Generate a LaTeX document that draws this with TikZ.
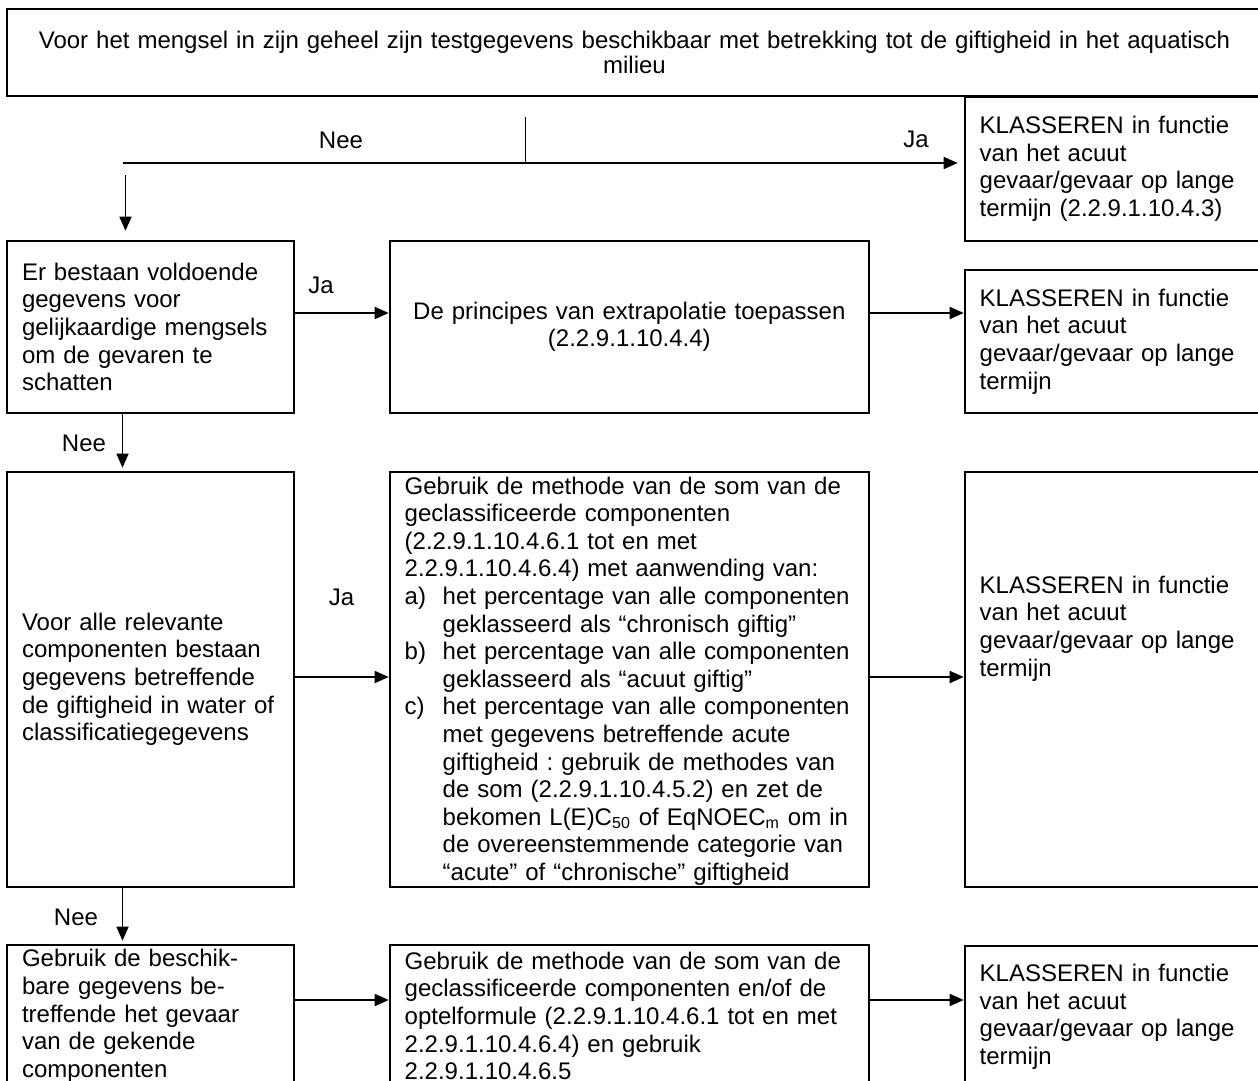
\documentclass[tikz,border=0pt]{standalone}
\usepackage{fontspec}
\setmainfont{Liberation Sans}
\usetikzlibrary{arrows.meta}
\frenchspacing
\tikzset{
  box/.style={draw, line width=1pt, rectangle, inner xsep=7.5pt, inner ysep=1pt, align=left,
    font=\fontsize{12}{13.8}\selectfont},
  lbl/.style={inner sep=0pt, font=\fontsize{12}{13.8}\selectfont},
  conn/.style={line width=0.8pt},
  arr/.style={line width=0.8pt, -{Triangle[length=7pt,width=6pt]}}
}
\begin{document}
\begin{tikzpicture}[x=0.5pt,y=-0.5pt]
\useasboundingbox (0,0) rectangle (1258,1081);
% top box
\node[box, align=center, minimum width=627.5pt, minimum height=43.5pt, text width=600pt,
  font=\fontsize{12}{12.5}\selectfont] (top) at (634.5,52.5)
  {Voor het mengsel in zijn geheel zijn testgegevens beschikbaar met betrekking tot de giftigheid in het aquatisch\\milieu};
% right column
\node[box, minimum width=148.65pt, minimum height=72pt, text width=133.65pt] (k1) at (1113.35,168.7)
  {KLASSEREN in functie\\van het acuut\\gevaar/gevaar op lange\\termijn (2.2.9.1.10.4.3)};
\node[box, minimum width=148.65pt, minimum height=71.5pt, text width=133.65pt] (k2) at (1113.35,341.5)
  {KLASSEREN in functie\\van het acuut\\gevaar/gevaar op lange\\termijn};
\node[box, minimum width=148.65pt, minimum height=207.65pt, text width=133.65pt] (k3) at (1113.35,679.35)
  {KLASSEREN in functie\\van het acuut\\gevaar/gevaar op lange\\termijn\rule[-53.4pt]{0pt}{0pt}};
\node[box, minimum width=148.65pt, minimum height=71.15pt, text width=133.65pt] (k4) at (1113.35,1016.85)
  {KLASSEREN in functie\\van het acuut\\gevaar/gevaar op lange\\termijn};
% left column
\node[box, minimum width=143.5pt, minimum height=86.15pt, text width=128.5pt] (er) at (150.5,326.85)
  {Er bestaan voldoende\\gegevens voor\\gelijkaardige mengsels\\om de gevaren te\\schatten};
\node[box, minimum width=143.5pt, minimum height=207.65pt, text width=128.5pt] (voor) at (150.5,679.35)
  {Voor alle relevante\\componenten bestaan\\gegevens betreffende\\de giftigheid in water of\\classificatiegegevens};
\node[box, minimum width=143.5pt, minimum height=71.15pt, text width=128.5pt] (besch) at (150.5,1015.85)
  {Gebruik de beschik-\\bare gegevens be-\\treffende het gevaar\\van de gekende\\componenten};
% middle column
\node[box, align=center, minimum width=239.65pt, minimum height=86.15pt, text width=224.65pt] (prin) at (629.35,326.85)
  {De principes van extrapolatie toepassen\\(2.2.9.1.10.4.4)};
\node[box, inner ysep=0pt, minimum width=239.65pt, minimum height=207.65pt, text width=224.65pt] (som) at (629.35,679.35)
  {\rule{0pt}{10.5pt}Gebruik de methode van de som van de\\
   geclassificeerde componenten\\
   (2.2.9.1.10.4.6.1 tot en met\\
   2.2.9.1.10.4.6.4) met aanwending van:\\
   \makebox[19pt][l]{a)}het percentage van alle componenten\\
   \hspace*{19pt}geklasseerd als “chronisch giftig”\\
   \makebox[19pt][l]{b)}het percentage van alle componenten\\
   \hspace*{19pt}geklasseerd als “acuut giftig”\\
   \makebox[19pt][l]{c)}het percentage van alle componenten\\
   \hspace*{19pt}met gegevens betreffende acute\\
   \hspace*{19pt}giftigheid : gebruik de methodes van\\
   \hspace*{19pt}de som (2.2.9.1.10.4.5.2) en zet de\\
   \hspace*{19pt}bekomen L(E)C\textsubscript{50} of EqNOEC\textsubscript{m} om in\\
   \hspace*{19pt}de overeenstemmende categorie van\\
   \hspace*{19pt}“acute” of “chronische” giftigheid};
\node[box, minimum width=239.65pt, minimum height=71.15pt, text width=224.65pt] (som2) at (629.35,1015.85)
  {Gebruik de methode van de som van de\\geclassificeerde componenten en/of de\\optelformule (2.2.9.1.10.4.6.1 tot en met\\2.2.9.1.10.4.6.4) en gebruik\\2.2.9.1.10.4.6.5};
% helper coordinates
\coordinate (jt) at (525.5,117);
\coordinate (jb) at (525.5,163);
\coordinate (nl) at (122.5,163);
\coordinate (d1) at (125.5,175);
\coordinate (dx) at (122.5,0);
\coordinate (y1) at (0,313);
\coordinate (y2) at (0,677);
\coordinate (y3) at (0,1000);
% connectors
\draw[conn] (jt) -- (jb);
\draw[conn] (nl) -- (jb);
\draw[arr, shorten >=3pt] (jb) -- (k1.west |- jb);
\draw[arr, shorten >=4.5pt] (d1) -- (d1 |- er.north);
\draw[arr] (er.east |- y1) -- (prin.west |- y1);
\draw[arr] (prin.east |- y1) -- (k2.west |- y1);
\draw[arr, shorten >=1.5pt] (er.south -| dx) -- (voor.north -| dx);
\draw[arr] (voor.east |- y2) -- (som.west |- y2);
\draw[arr] (som.east |- y2) -- (k3.west |- y2);
\draw[arr, shorten >=1.5pt] (voor.south -| dx) -- (besch.north -| dx);
\draw[arr] (besch.east |- y3) -- (som2.west |- y3);
\draw[arr] (som2.east |- y3) -- (k4.west |- y3);
% labels
\node[lbl] (l1) at (341,140) {Nee};
\node[lbl] (l2) at (916,139) {Ja};
\node[lbl] (l3) at (321,285) {Ja};
\node[lbl] (l4) at (84,443) {Nee};
\node[lbl] (l5) at (341.5,597) {Ja};
\node[lbl] (l6) at (76,917) {Nee};
\end{tikzpicture}
\end{document}
